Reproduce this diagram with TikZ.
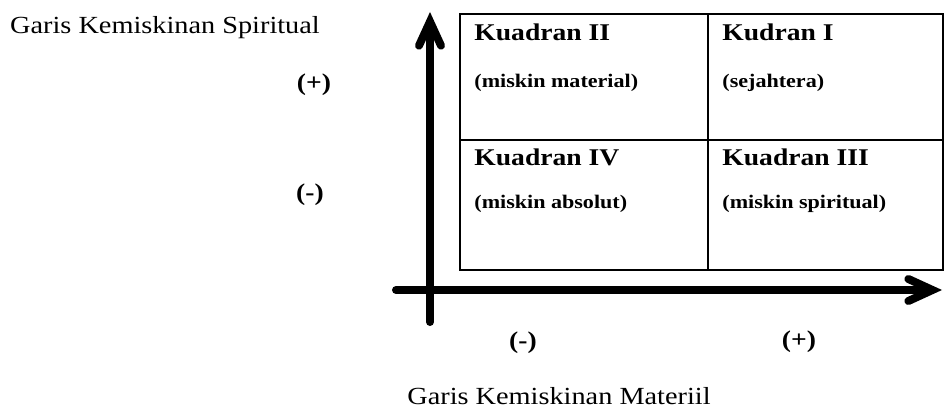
\documentclass[tikz,border=0pt]{standalone}
\usepackage{fontspec}
\setmainfont[FakeStretch=1.15]{Liberation Serif}
\usepackage{tikz}
\usetikzlibrary{arrows.meta, positioning}

\tikzset{
    axisline/.style={line width=4pt, line cap=round, -{Straight Barb[length=12pt, width=11pt, line cap=round]},
        preaction={draw=black!22, transform canvas={shift={(0.8pt,-1pt)}}}},
    gridline/.style={line width=0.75pt},
    linelabel/.style={inner sep=0pt, font=\fontsize{12.3}{14}\selectfont},
    quadhead/.style={anchor=west, inner sep=0pt, font=\fontsize{12}{14}\selectfont\bfseries},
    quadsub/.style={anchor=west, inner sep=0pt, font=\fontsize{9.6}{11}\selectfont\bfseries},
    signlabel/.style={inner sep=0pt, font=\fontsize{12}{14}\selectfont\bfseries},
}

\begin{document}
\begin{tikzpicture}[x=0.5pt, y=-0.5pt]
    \useasboundingbox (0,0) rectangle (944,407);
    % axes
    \coordinate (ybot) at (430,322);
    \coordinate (ytop) at (430,12);
    \coordinate (xleft) at (396,290);
    \coordinate (xright) at (942,290);
    \draw[axisline] (ybot) -- (ytop);
    \draw[axisline] (xleft) -- (xright);
    % quadrant box
    \draw[gridline] (460,14) rectangle (943,270);
    \draw[gridline] (708,14) -- (708,270);
    \draw[gridline] (460,140) -- (943,140);
    \node[quadhead] (q2head) at (474,32) {Kuadran II};
    \node[quadsub] (q2sub) at (474,83) {(miskin material)};
    \node[quadhead] (q1head) at (722,32) {Kudran I};
    \node[quadsub] (q1sub) at (722,83) {(sejahtera)};
    \node[quadhead] (q4head) at (474,157) {Kuadran IV};
    \node[quadsub] (q4sub) at (474,204) {(miskin absolut)};
    \node[quadhead] (q3head) at (722,157) {Kuadran III};
    \node[quadsub] (q3sub) at (722,204) {(miskin spiritual)};
    % labels
    \node[linelabel] (spiritual) at (165,28) {Garis Kemiskinan Spiritual};
    \node[linelabel] (materiil) at (559,396) {Garis Kemiskinan Materiil};
    \node[signlabel] (yplus) at (314,85) {(+)};
    \node[signlabel] (yminus) at (310,195) {(-)};
    \node[signlabel] (xminus) at (523,343) {(-)};
    \node[signlabel] (xplus) at (799,342) {(+)};
\end{tikzpicture}
\end{document}
